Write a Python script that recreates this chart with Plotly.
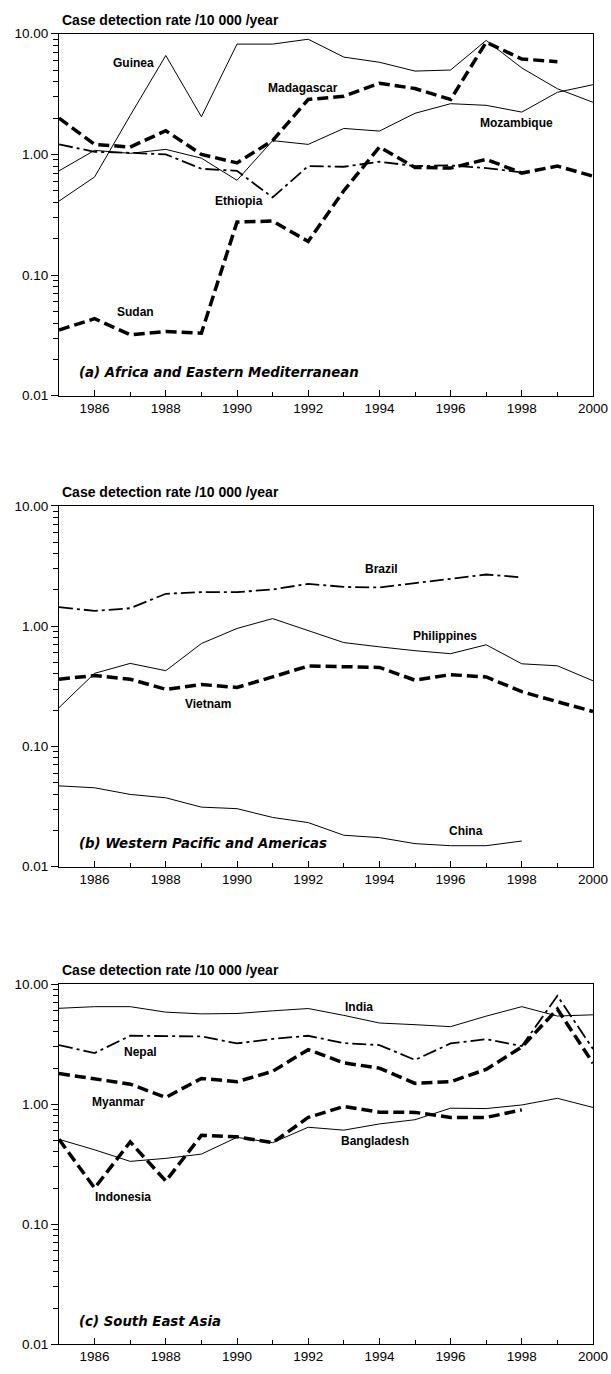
import plotly.graph_objects as go

years = list(range(1985, 2001))

# Panel (a) Africa and Eastern Mediterranean
guinea = [0.41, 0.65, 2.1, 6.6, 2.05, 8.2, 8.2, 9.0, 6.4, 5.8, 4.9, 5.0, 8.8, 5.2, 3.5, 2.7]
mozambique = [0.73, 1.08, 1.02, 1.1, 0.93, 0.61, 1.3, 1.21, 1.64, 1.56, 2.19, 2.63, 2.55, 2.24, 3.27, 3.78]
madagascar = [2.0, 1.21, 1.15, 1.57, 1.0, 0.85, 1.3, 2.85, 3.03, 3.89, 3.51, 2.85, 8.5, 6.17, 5.86, None]
ethiopia = [1.21, 1.05, 1.03, 1.0, 0.76, 0.73, 0.44, 0.80, 0.79, 0.87, 0.80, 0.81, 0.77, 0.71, None, None]
sudan = [0.035, 0.0435, 0.032, 0.034, 0.033, 0.275, 0.28, 0.19, 0.5, 1.15, 0.78, 0.77, 0.91, 0.70, 0.80, 0.66]

# Panel (b) Western Pacific and Americas
brazil = [1.44, 1.34, 1.41, 1.86, 1.92, 1.92, 2.02, 2.25, 2.12, 2.10, 2.28, 2.48, 2.69, 2.55, None, None]
philippines = [0.21, 0.405, 0.49, 0.426, 0.717, 0.957, 1.156, 0.92, 0.73, 0.673, 0.625, 0.59, 0.70, 0.486, 0.468, 0.351]
vietnam = [0.362, 0.388, 0.362, 0.298, 0.327, 0.309, 0.378, 0.466, 0.46, 0.454, 0.355, 0.395, 0.378, 0.285, 0.235, 0.195]
china = [0.0469, 0.0452, 0.0398, 0.0373, 0.0312, 0.0303, 0.0256, 0.0232, 0.0182, 0.0174, 0.0155, 0.0149, 0.0149, 0.0163, None, None]

# Panel (c) South East Asia
india = [6.3, 6.5, 6.5, 5.85, 5.66, 5.7, 6.0, 6.27, 5.5, 4.75, 4.6, 4.43, 5.42, 6.5, 5.43, 5.56]
nepal = [3.11, 2.67, 3.72, 3.67, 3.67, 3.21, 3.5, 3.72, 3.23, 3.11, 2.34, 3.21, 3.48, 3.05, 8.0, 2.89]
myanmar = [1.8, 1.64, 1.47, 1.14, 1.64, 1.54, 1.88, 2.85, 2.21, 2.0, 1.49, 1.54, 1.95, 3.0, 6.2, 2.2]
bangladesh = [0.51, 0.417, 0.334, 0.354, 0.384, 0.53, 0.478, 0.643, 0.608, 0.685, 0.743, 0.927, 0.92, 0.986, 1.12, 0.94]
indonesia = [0.51, 0.2, 0.485, 0.229, 0.55, 0.535, 0.478, 0.776, 0.958, 0.859, 0.855, 0.776, 0.776, 0.897, None, None]

y_tickvals = [0.01, 0.1, 1, 10]
y_ticktext = ["0.01", "0.10", "1.00", "10.00"]
x_tickvals = [1986, 1988, 1990, 1992, 1994, 1996, 1998, 2000]

axis_title = "Case detection rate /10 000 /year"
panel_titles = ["(a) Africa and Eastern Mediterranean",
                "(b) Western Pacific and Americas",
                "(c) South East Asia"]

# styles
THIN = dict(color="black", width=1)
THICK = dict(color="black", width=3.5, dash="11px,5px")
DASHDOT = dict(color="black", width=1.8, dash="14px,4px,3px,4px")

W, H = 611, 1374
ML, MR = 59, 18
panels_px = [(27, 393), (504.5, 869), (988, 1352)]  # (top, bottom) pixel rows of plot areas


def py2paper(py):
    return 1 - py / H


fig = go.Figure()

series = [
    [("Guinea", guinea, THIN), ("Mozambique", mozambique, THIN), ("Madagascar", madagascar, THICK),
     ("Ethiopia", ethiopia, DASHDOT), ("Sudan", sudan, THICK)],
    [("Brazil", brazil, DASHDOT), ("Philippines", philippines, THIN), ("Vietnam", vietnam, THICK),
     ("China", china, THIN)],
    [("India", india, THIN), ("Nepal", nepal, DASHDOT), ("Myanmar", myanmar, THICK),
     ("Bangladesh", bangladesh, THIN), ("Indonesia", indonesia, THICK)],
]

labels = [
    [("Guinea", 1987.08, 0.754), ("Madagascar", 1991.85, 0.549), ("Mozambique", 1997.84, 0.262),
     ("Ethiopia", 1990.05, -0.385), ("Sudan", 1987.16, -1.310)],
    [("Brazil", 1994.07, 0.472), ("Philippines", 1995.84, -0.085), ("Vietnam", 1989.19, -0.645),
     ("China", 1996.43, -1.702)],
    [("India", 1993.43, 0.809), ("Nepal", 1987.30, 0.439), ("Myanmar", 1986.66, 0.022),
     ("Bangladesh", 1993.89, -0.306), ("Indonesia", 1986.80, -0.777)],
]

annotations = []
for i in range(3):
    n = "" if i == 0 else str(i + 1)
    xa, ya = "x" + n, "y" + n
    for name, vals, style in series[i]:
        fig.add_trace(go.Scatter(x=years, y=vals, mode="lines", line=style, name=name,
                                 xaxis=xa, yaxis=ya, showlegend=False, connectgaps=False))
    top, bot = panels_px[i]
    fig.layout["xaxis" + n] = dict(
        domain=[0, 1], anchor=ya, range=[1985, 2000], tickvals=x_tickvals,
        ticks="inside", ticklen=6, tickwidth=1, tickcolor="black",
        minor=dict(dtick=1, tick0=1985, ticks="inside", ticklen=4, tickwidth=1, tickcolor="black"),
        showline=True, linecolor="black", linewidth=1, mirror=True, showgrid=False, zeroline=False,
        tickfont=dict(family="Liberation Sans, Arial", size=13.5, color="black"),
    )
    fig.layout["yaxis" + n] = dict(
        domain=[py2paper(bot), py2paper(top)], anchor=xa, type="log", range=[-2, 1],
        tickvals=y_tickvals, ticktext=y_ticktext,
        ticks="outside", ticklen=7, tickwidth=1, tickcolor="black",
        minor=dict(ticks="outside", ticklen=5, tickwidth=1, tickcolor="black", dtick="D1"),
        showline=True, linecolor="black", linewidth=1, mirror=True, showgrid=False, zeroline=False,
        tickfont=dict(family="Liberation Sans, Arial", size=13.5, color="black"),
    )
    # axis title above plot
    annotations.append(dict(text=axis_title, xref="paper", yref="paper", x=0.002,
                            y=py2paper(top - 14), xanchor="left", yanchor="middle", showarrow=False,
                            font=dict(family="Liberation Sans, Arial", size=14, color="black", weight="bold")))
    for name, lx, ly in labels[i]:
        annotations.append(dict(text=name, xref=xa, yref=ya, x=lx, y=ly, showarrow=False,
                                xanchor="center", yanchor="middle",
                                font=dict(family="Liberation Sans, Arial", size=12, color="black",
                                          weight="bold")))
    annotations.append(dict(text=panel_titles[i], xref=xa, yref=ya, x=1985.50, y=-1.81, showarrow=False,
                            xanchor="left", yanchor="middle",
                            font=dict(family="DejaVu Sans", size=13.3, color="black", weight="bold",
                                      style="italic")))

fig.update_layout(width=W, height=H, margin=dict(l=ML, r=MR, t=0, b=0),
                  paper_bgcolor="white", plot_bgcolor="white", annotations=annotations,
                  showlegend=False)

fig.write_html("out.html")
